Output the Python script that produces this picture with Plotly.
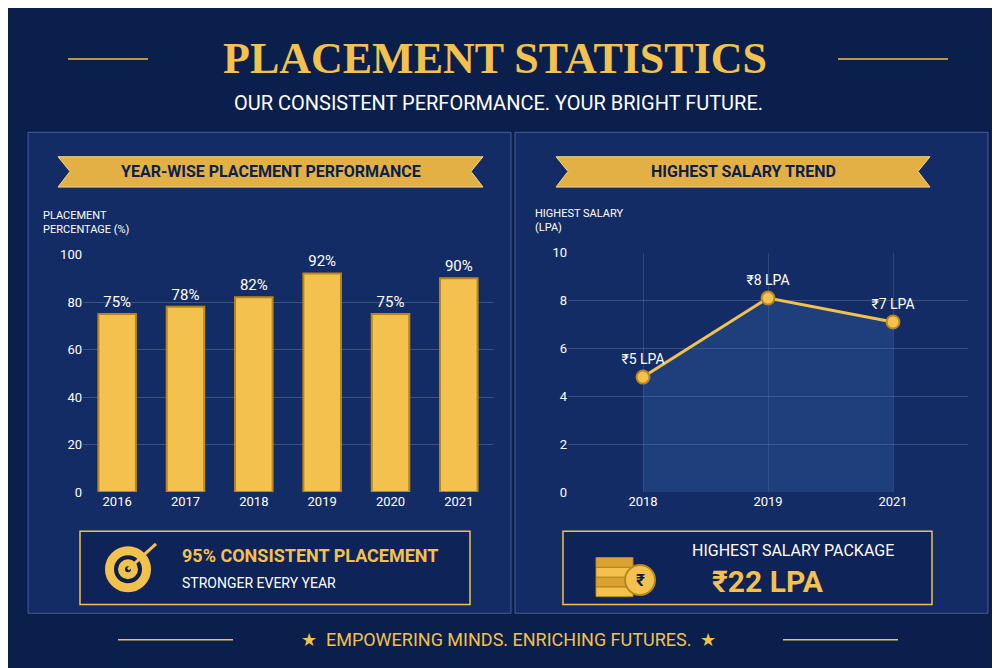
import plotly.graph_objects as go

years = ["2016", "2017", "2018", "2019", "2020", "2021"]
placement = [75, 78, 82, 92, 75, 90]
placement_labels = ["75%", "78%", "82%", "92%", "75%", "90%"]

salary_years = ["2018", "2019", "2021"]
salary = [4.8, 8.1, 7.1]
salary_labels = ["₹5 LPA", "₹8 LPA", "₹7 LPA"]

GOLD = "#F2C14E"
GOLD_D = "#B8861B"
NAVY = "#0B1F4D"
WHITE = "#FFFFFF"
FONT = "Roboto"


def py(v):  # pixel y -> paper
    return 1 - v / 668


fig = go.Figure()

fig.add_trace(go.Bar(
    x=years, y=placement, text=placement_labels, textposition="outside",
    textfont=dict(color=WHITE, size=15, family=FONT),
    marker=dict(color=GOLD, line=dict(color=GOLD_D, width=2)),
    width=0.55, cliponaxis=False, xaxis="x", yaxis="y", showlegend=False,
))

fig.add_trace(go.Scatter(
    x=salary_years, y=salary, mode="lines+markers+text", text=salary_labels,
    textposition="top center", textfont=dict(color=WHITE, size=14, family=FONT),
    line=dict(color=GOLD, width=3), marker=dict(size=13, color=GOLD, line=dict(color=GOLD_D, width=2)),
    fill="tozeroy", fillcolor="rgba(50,100,170,0.35)", cliponaxis=False,
    xaxis="x2", yaxis="y2", showlegend=False,
))

ax = dict(color=WHITE, tickfont=dict(color=WHITE, size=13, family=FONT), showline=False, zeroline=False)
fig.update_layout(
    width=1000, height=668, margin=dict(l=0, r=0, t=0, b=0),
    paper_bgcolor=NAVY, plot_bgcolor="rgba(0,0,0,0)", font=dict(family=FONT, color=WHITE),
    xaxis=dict(domain=[0.075, 0.485], anchor="y", showgrid=False, **ax),
    yaxis=dict(domain=[py(488), py(245)], range=[0, 100], dtick=20, anchor="x",
               gridcolor="rgba(255,255,255,0.18)", **ax),
    xaxis2=dict(domain=[0.56, 0.96], anchor="y2", showgrid=True, gridcolor="rgba(255,255,255,0.12)",
                range=[-0.6, 2.6], **ax),
    yaxis2=dict(domain=[py(488), py(243)], range=[0, 10], dtick=2, anchor="x2",
                gridcolor="rgba(255,255,255,0.18)", **ax),
)

shapes = []
ann = []
# panels
for x0, x1 in [(0.02, 0.503), (0.507, 0.98)]:
    shapes.append(dict(type="rect", xref="paper", yref="paper", x0=x0, x1=x1, y0=py(612), y1=py(120),
                       fillcolor="rgba(30,60,130,0.45)", line=dict(color="rgba(120,150,210,0.5)", width=1), layer="below"))
# banners
for x0, x1, txt in [(0.05, 0.475, "YEAR-WISE PLACEMENT PERFORMANCE"), (0.548, 0.922, "HIGHEST SALARY TREND")]:
    shapes.append(dict(type="path", xref="paper", yref="paper",
                       path=f"M {x0} {py(145)} L {x1} {py(145)} L {x1-0.012} {py(160)} L {x1} {py(176)} "
                            f"L {x0} {py(176)} L {x0+0.012} {py(160)} Z",
                       fillcolor="#E3B045", line=dict(color="#F7D77A", width=1)))
    ann.append(dict(x=(x0 + x1) / 2, y=py(160), text=f"<b>{txt}</b>", font=dict(size=16, color=NAVY)))
# bottom boxes
for x0, x1 in [(0.072, 0.462), (0.555, 0.924)]:
    shapes.append(dict(type="rect", xref="paper", yref="paper", x0=x0, x1=x1, y0=py(603), y1=py(528),
                       fillcolor="rgba(10,30,80,0.6)", line=dict(color=GOLD, width=1.5)))
# target icon
for r, c in [(22, GOLD), (15, NAVY), (9, GOLD), (4, NAVY)]:
    shapes.append(dict(type="circle", xref="paper", yref="paper", xsizemode="pixel", ysizemode="pixel",
                       xanchor=0.12, yanchor=py(567), x0=-r, x1=r, y0=-r, y1=r, fillcolor=c,
                       line=dict(color=GOLD, width=2)))
shapes.append(dict(type="line", xref="paper", yref="paper", x0=0.12, y0=py(567), x1=0.148, y1=py(541),
                   line=dict(color=GOLD, width=3)))
# coins icon
for i in range(4):
    yy = 590 - i * 10
    shapes.append(dict(type="rect", xref="paper", yref="paper", x0=0.588, x1=0.625, y0=py(yy + 5), y1=py(yy - 5),
                       fillcolor=GOLD if i % 2 == 0 else "#D9A233", line=dict(color=GOLD_D, width=1)))
shapes.append(dict(type="circle", xref="paper", yref="paper", xsizemode="pixel", ysizemode="pixel",
                   xanchor=0.632, yanchor=py(578), x0=-15, x1=15, y0=-15, y1=15,
                   fillcolor=GOLD, line=dict(color=GOLD_D, width=2)))
ann.append(dict(x=0.632, y=py(578), text="<b>₹</b>", font=dict(size=17, color=NAVY)))
# title lines
for x0, x1, y in [(0.06, 0.14, 45), (0.83, 0.94, 45), (0.11, 0.225, 639), (0.775, 0.89, 639)]:
    shapes.append(dict(type="line", xref="paper", yref="paper", x0=x0, x1=x1, y0=py(y), y1=py(y),
                       line=dict(color=GOLD, width=1.5)))

ann += [
    dict(x=0.487, y=py(45), text="<b>PLACEMENT STATISTICS</b>", font=dict(size=44, color=GOLD, family="Liberation Serif")),
    dict(x=0.49, y=py(90), text="OUR CONSISTENT PERFORMANCE. YOUR BRIGHT FUTURE.", font=dict(size=20, color=WHITE)),
    dict(x=0.033, y=py(212), xanchor="left", text="PLACEMENT<br>PERCENTAGE (%)", align="left", font=dict(size=11, color=WHITE)),
    dict(x=0.525, y=py(210), xanchor="left", text="HIGHEST SALARY<br>(LPA)", align="left", font=dict(size=11, color=WHITE)),
    dict(x=0.172, y=py(553), xanchor="left", text="<b>95% CONSISTENT PLACEMENT</b>", font=dict(size=18, color=GOLD)),
    dict(x=0.172, y=py(581), xanchor="left", text="STRONGER EVERY YEAR", font=dict(size=14, color=WHITE)),
    dict(x=0.785, y=py(548), text="HIGHEST SALARY PACKAGE", font=dict(size=16, color=WHITE)),
    dict(x=0.76, y=py(580), text="<b>₹22 LPA</b>", font=dict(size=30, color=GOLD)),
    dict(x=0.5, y=py(639), text="★  EMPOWERING MINDS. ENRICHING FUTURES.  ★", font=dict(size=18, color=GOLD)),
]
for a in ann:
    a.update(xref="paper", yref="paper", showarrow=False, yanchor="middle")
    a.setdefault("xanchor", "center")
    a["font"].setdefault("family", FONT)

fig.update_layout(shapes=shapes, annotations=ann)
fig.write_html("out.html")
